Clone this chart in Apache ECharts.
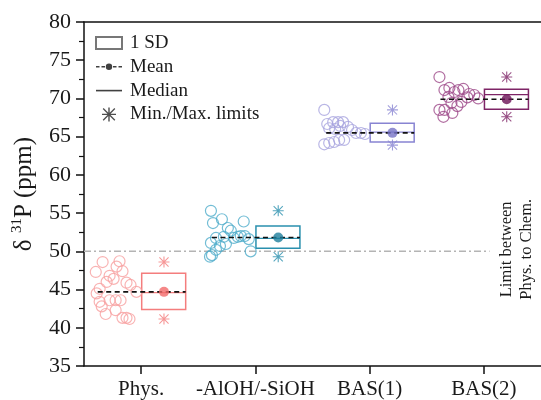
<!DOCTYPE html>
<html>
<head>
<meta charset="utf-8">
<script src="https://cdn.jsdelivr.net/npm/echarts@6/dist/echarts.min.js"></script>
<style>html,body{margin:0;padding:0;background:#fff}#c{width:541px;height:400px}</style>
</head>
<body>
<div id="c"></div>
<script>
// ---- data ----
const categories = ['Phys.', '-AlOH/-SiOH', 'BAS(1)', 'BAS(2)'];
const yTicks = [35, 40, 45, 50, 55, 60, 65, 70, 75, 80];

const physValues = [48.6, 48.7, 47.3, 48.0, 47.4, 46.8, 46.0, 46.4, 45.9, 45.6, 45.1, 44.5, 44.7, 43.4, 43.6, 43.6, 43.6, 42.8, 41.8, 42.3, 41.3, 41.3, 41.15];
const physJitter = [-0.337, -0.189, -0.397, -0.215, -0.163, -0.276, -0.302, -0.241, -0.128, -0.093, -0.363, -0.389, -0.041, -0.363, -0.276, -0.223, -0.180, -0.345, -0.310, -0.223, -0.163, -0.128, -0.102];

const alohValues = [55.3, 54.2, 53.7, 53.9, 53.05, 52.7, 51.75, 50.96, 51.75, 51.9, 52.0, 52.0, 51.6, 51.1, 50.2, 49.5, 49.3, 50.0, 51.9, 50.7];
const alohJitter = [-0.389, -0.293, -0.371, -0.102, -0.241, -0.215, -0.345, -0.258, -0.189, -0.154, -0.128, -0.093, -0.058, -0.389, -0.345, -0.380, -0.397, -0.041, -0.276, -0.310];

const bas1Values = [68.5, 66.66, 66.9, 66.9, 66.9, 66.1, 66.4, 66.27, 65.87, 65.48, 65.48, 65.35, 64.0, 64.17, 64.3, 64.57, 64.57, 66.0];
const bas1Jitter = [-0.397, -0.371, -0.319, -0.276, -0.232, -0.354, -0.258, -0.189, -0.154, -0.119, -0.076, -0.041, -0.397, -0.354, -0.310, -0.267, -0.223, -0.302];

const bas2Values = [72.8, 71.1, 71.37, 70.84, 71.1, 71.24, 70.58, 70.45, 70.0, 69.54, 69.4, 69.0, 68.5, 68.5, 68.1, 67.6, 70.14, 70.2];
const bas2Jitter = [-0.389, -0.345, -0.302, -0.258, -0.223, -0.180, -0.128, -0.084, -0.050, -0.197, -0.284, -0.232, -0.389, -0.345, -0.276, -0.354, -0.145, -0.310];

const sdLow = [42.4, 50.4, 64.3, 68.6];
const sdHigh = [47.13, 53.3, 66.75, 71.2];
const means = [44.7, 51.8, 65.5, 69.9];
const medians = [44.6, 51.7, 65.6, 70.5];
const minLimits = [41.15, 49.3, 63.9, 67.6];
const maxLimits = [48.6, 55.3, 68.5, 72.8];
const limitValue = 50;
const limitText = 'Limit between\nPhys. to Chem.';

// ---- styles ----
const FONT = 'Liberation Serif';
const boxColors = ['#F47D7D', '#2A90AE', '#8884D2', '#7E2466'];
const pointColors = ['#F8A0A0', '#4FADCA', '#A8A4DF', '#9E4A8A'];
const dotColors = ['#F26A6A', '#1E7E9C', '#7773C6', '#6C1256'];
const BOX_L = 0.005, BOX_R = 0.39, MID = 0.2, LINE_L = -0.38;
const STAR = 'path://M5.4,0h1.2v12h-1.2z M0,5.4h12v1.2H0z M0.6,1.4L1.4,0.6L11.4,10.6L10.6,11.4z M10.6,0.6L11.4,1.4L1.4,11.4L0.6,10.6z';

const groups = [
  [physValues, physJitter], [alohValues, alohJitter], [bas1Values, bas1Jitter], [bas2Values, bas2Jitter]
];

const series = [];

// 1 SD boxes with median
series.push({
  type: 'custom', name: '_box', z: 2, silent: true,
  data: categories.map((c, i) => [i, sdLow[i], sdHigh[i], medians[i]]),
  renderItem: function (params, api) {
    const i = api.value(0);
    const p1 = api.coord([i + BOX_L, api.value(2)]);
    const p2 = api.coord([i + BOX_R, api.value(1)]);
    const pm = api.coord([i, api.value(3)]);
    const col = boxColors[params.dataIndex];
    return {
      type: 'group', children: [
        { type: 'rect', shape: { x: p1[0], y: p1[1], width: p2[0] - p1[0], height: p2[1] - p1[1] },
          style: { fill: 'rgba(255,255,255,0)', stroke: col, lineWidth: 1.5 } },
        { type: 'line', shape: { x1: p1[0], y1: pm[1], x2: p2[0], y2: pm[1] },
          style: { stroke: col, lineWidth: 1.3 } }
      ]
    };
  }
});

// limit line and text
series.push({
  type: 'custom', name: '_limit', z: 1, silent: true,
  data: [[limitValue]],
  renderItem: function (params, api) {
    const a = api.coord([-0.5, api.value(0)]);
    const b = api.coord([3.05, api.value(0)]);
    const t = api.coord([3.29, api.value(0)]);
    return {
      type: 'group', children: [
        { type: 'line', shape: { x1: a[0], y1: a[1], x2: b[0], y2: b[1] },
          style: { stroke: '#B4B4B4', lineWidth: 1.5, lineDash: [7, 3, 2, 3] } },
        { type: 'text', x: t[0], y: t[1] - 2, rotation: Math.PI / 2,
          style: { text: limitText, fontFamily: FONT, fontSize: 16.5, fill: '#1a1a1a', align: 'center', verticalAlign: 'middle', lineHeight: 20 } }
      ]
    };
  }
});

// points
groups.forEach(function (g, i) {
  series.push({
    type: 'scatter', name: '_pts' + i, z: 4, silent: true,
    symbol: 'circle', symbolSize: 11,
    itemStyle: { color: 'rgba(255,255,255,0)', borderColor: pointColors[i], borderWidth: 1.2 },
    data: g[0].map((v, k) => [i + g[1][k], v])
  });
});

// mean dashed lines
series.push({
  type: 'custom', name: '_meanline', z: 5, silent: true,
  data: categories.map((c, i) => [i, means[i]]),
  renderItem: function (params, api) {
    const i = api.value(0);
    const a = api.coord([i + LINE_L, api.value(1)]);
    const b = api.coord([i + BOX_R, api.value(1)]);
    return { type: 'line', shape: { x1: a[0], y1: a[1], x2: b[0], y2: b[1] },
      style: { stroke: '#111', lineWidth: 1.6, lineDash: [5, 3.5] } };
  }
});

// mean dots
series.push({
  type: 'scatter', name: '_meandot', z: 6, silent: true, symbol: 'circle', symbolSize: 10,
  data: categories.map((c, i) => ({ value: [i + MID, means[i]], itemStyle: { color: dotColors[i] } }))
});

// min/max stars
series.push({
  type: 'scatter', name: '_stars', z: 6, silent: true, symbol: STAR, symbolSize: 11,
  data: categories.flatMap((c, i) => [
    { value: [i + MID, minLimits[i]], itemStyle: { color: boxColors[i] } },
    { value: [i + MID, maxLimits[i]], itemStyle: { color: boxColors[i] } }
  ])
});

// legend dummies
series.push({ type: 'scatter', name: '1 SD', data: [], itemStyle: { color: '#fff', borderColor: '#555', borderWidth: 1 } });
series.push({ type: 'scatter', name: 'Mean', data: [], itemStyle: { color: '#111' } });
series.push({ type: 'scatter', name: 'Median', data: [], itemStyle: { color: '#111' } });
series.push({ type: 'scatter', name: 'Min./Max. limits', data: [], itemStyle: { color: '#222' } });

const chart = echarts.init(document.getElementById('c'), null, { renderer: 'canvas' });
chart.setOption({
  animation: false,
  backgroundColor: '#fff',
  grid: { left: 84, top: 22, width: 460, height: 344 },
  legend: {
    orient: 'vertical', left: 90, top: 28.5, itemGap: 4.8, itemWidth: 26, itemHeight: 14,
    selectedMode: false,
    textStyle: { fontFamily: FONT, fontSize: 19, color: '#1a1a1a', lineHeight: 19, padding: [0, 0, 0, 3] },
    data: [
      { name: '1 SD', icon: 'path://M0,0h24v11H0z' },
      { name: 'Mean', icon: 'path://M0,5.2h3.5v1.6H0z M5.5,5.2h3.5v1.6H5.5z M9.8,6a3.2,3.2 0 1,0 6.4,0a3.2,3.2 0 1,0 -6.4,0z M17,5.2h3.5v1.6H17z M22.5,5.2h3.5v1.6H22.5z' },
      { name: 'Median', icon: 'path://M0,0h26v1.6H0z' },
      { name: 'Min./Max. limits', icon: STAR }
    ]
  },
  xAxis: [{
    type: 'value', min: -0.5, max: 3.5, position: 'bottom',
    splitLine: { show: false },
    axisLine: { onZero: false, lineStyle: { color: '#111', width: 1.5 } },
    axisTick: { show: true, inside: false, length: 8, lineStyle: { color: '#111', width: 1.5 }, customValues: categories.map((c, i) => i) },
    axisLabel: { customValues: categories.map((c, i) => i), formatter: v => categories[Math.round(v)], fontFamily: FONT, fontSize: 21, color: '#1a1a1a', margin: 13 }
  }, {
    type: 'value', min: -0.5, max: 3.5, position: 'top',
    splitLine: { show: false }, axisTick: { show: false }, axisLabel: { show: false },
    axisLine: { onZero: false, lineStyle: { color: '#111', width: 1.5 } }
  }],
  yAxis: {
    type: 'value', min: yTicks[0], max: yTicks[yTicks.length - 1], interval: 5, position: 'left',
    splitLine: { show: false },
    axisLine: { show: true, onZero: false, lineStyle: { color: '#111', width: 1.5 } },
    axisTick: { show: true, inside: false, length: 8, lineStyle: { color: '#111', width: 1.5 } },
    minorTick: { show: true, splitNumber: 2, length: 5, lineStyle: { color: '#111', width: 1.2 } },
    axisLabel: { fontFamily: FONT, fontSize: 22, color: '#1a1a1a', margin: 13 },
    name: 'δ {sup|31}P (ppm)', nameLocation: 'middle', nameGap: 46,
    nameTextStyle: {
      fontFamily: FONT, fontSize: 25, color: '#1a1a1a',
      rich: { sup: { fontFamily: FONT, fontSize: 15, color: '#1a1a1a', verticalAlign: 'top', lineHeight: 28 } }
    }
  },
  series: series
});
</script>
</body>
</html>
